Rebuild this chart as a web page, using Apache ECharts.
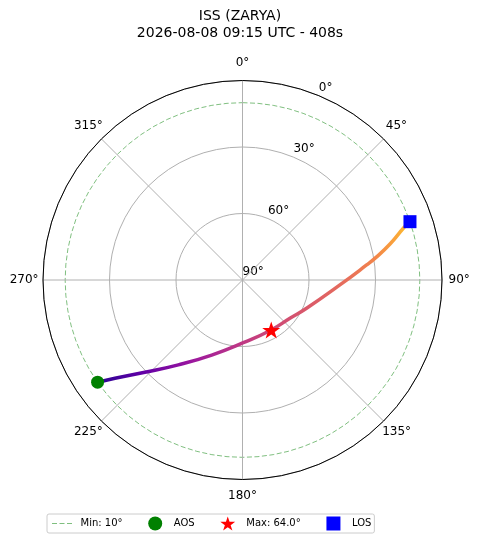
<!DOCTYPE html>
<html>
<head>
<meta charset="utf-8">
<title>ISS (ZARYA) pass</title>
<script src="https://cdn.jsdelivr.net/npm/echarts@6.0.0/dist/echarts.min.js"></script>
<style>
  html, body { margin: 0; padding: 0; background: #fff; }
  #chart { width: 480px; height: 543px; }
</style>
</head>
<body>
<div id="chart"></div>
<script>
// pass: azimuth / elevation in degrees
var trackAz = [234.8, 232.4, 226.6, 217.1, 202.3, 179.3, 150.1, 128.9, 113.8, 92.9, 83.1, 80.4, 76.3, 72.0, 70.8];
var trackEl = [10.0, 17.4, 29.4, 42.0, 53.4, 61.7, 64.0, 62.5, 58.4, 46.0, 33.6, 28.9, 21.5, 13.4, 10.0];
var aosPoint = [234.8, 10.0];
var maxPoint = [150.1, 64.0];
var losPoint = [70.8, 10.0];
var minElevation = 10;
// azimuth labels, starting at the first spoke clockwise of the radius labels
var azimuthLabels = ['45°', '90°', '135°', '180°', '225°', '270°', '315°', '0°'];
// push each label out so they all sit centred about the same distance off the rim
var labelPad = {
    '0°': [0, 0, 13.5, 0],
    '45°': [0, 0, 8.7, 3.7],
    '90°': [0, 0, 0, 8.5],
    '135°': [6, 0, 0, 0],
    '180°': [12, 0, 0, 0],
    '225°': [6, 0, 0, 0],
    '270°': [0, 6.4, 0, 0],
    '315°': [0, 0, 8.4, 0]
};

var chart = echarts.init(document.getElementById('chart'));

var track = trackAz.map(function (az, i) { return [trackEl[i], az]; });
var minRing = [];
for (var a = 0; a <= 360; a += 5) {
    minRing.push([minElevation, a]);
}

var minName = 'Min: ' + minElevation + '°';
var maxName = 'Max: ' + maxPoint[1].toFixed(1) + '°';

var plasma = new echarts.graphic.LinearGradient(0, 0, 1, 0, [
    { offset: 0, color: '#2a0593' },
    { offset: 0.15, color: '#6200a6' },
    { offset: 0.3, color: '#9a169f' },
    { offset: 0.45, color: '#bd3786' },
    { offset: 0.55, color: '#cc4778' },
    { offset: 0.7, color: '#dd5e66' },
    { offset: 0.8, color: '#e8705a' },
    { offset: 0.88, color: '#f2844b' },
    { offset: 0.95, color: '#faa63a' },
    { offset: 1, color: '#fcc72a' }
]);

var starPath = 'path://M50,0L61.8,35.1L98.9,35.1L68.9,56.7L80.3,91.9L50,70.2L19.7,91.9L31.1,56.7L1.1,35.1L38.2,35.1Z';
var squarePath = 'path://M0,0H10V10H0Z';
var gridGray = '#b0b0b0';

chart.setOption({
    backgroundColor: '#fff',
    animation: false,
    textStyle: { fontFamily: 'DejaVu Sans' },
    title: {
        text: 'ISS (ZARYA)\n2026-08-08 09:15 UTC - 408s',
        left: 'center',
        top: 3,
        textStyle: { fontSize: 14, fontWeight: 'normal', color: '#000', lineHeight: 17 }
    },
    legend: {
        data: [
            { name: minName, itemStyle: { opacity: 0 }, lineStyle: { color: 'rgba(0,128,0,0.5)', width: 1, type: [5, 2.5] } },
            'AOS', maxName, 'LOS'
        ],
        left: 47,
        top: 514,
        itemWidth: 20,
        itemHeight: 14,
        itemGap: 25.7,
        padding: [2.5, 3, 2.5, 4.5],
        borderColor: '#cccccc',
        borderWidth: 1,
        borderRadius: 2,
        selectedMode: false,
        textStyle: { fontSize: 10, color: '#000', padding: [0, 0, 0, 3.5] }
    },
    polar: [
        { center: [242.5, 280], radius: 199.5 },
        { center: [242.5, 280], radius: 199.5 }
    ],
    angleAxis: [
        {
            polarIndex: 0,
            type: 'value',
            min: 0,
            max: 360,
            interval: 45,
            startAngle: 90,
            clockwise: true,
            z: 2,
            axisLine: { lineStyle: { color: '#000', width: 1 } },
            axisTick: { show: false },
            axisLabel: { show: false },
            splitLine: { lineStyle: { color: gridGray, width: 1 } }
        },
        {
            polarIndex: 1,
            type: 'category',
            data: azimuthLabels.map(function (t) {
                return { value: t, textStyle: { padding: labelPad[t] } };
            }),
            startAngle: 67.5,
            clockwise: true,
            boundaryGap: true,
            axisLine: { show: false },
            axisTick: { show: false },
            splitLine: { show: false },
            axisLabel: { margin: -2, fontSize: 12, color: '#000' }
        }
    ],
    radiusAxis: [
        {
            polarIndex: 0,
            type: 'value',
            min: 0,
            max: 90,
            interval: 30,
            inverse: true,
            z: 1,
            axisLine: { show: false },
            axisTick: { show: false },
            axisLabel: { show: false },
            splitLine: { lineStyle: { color: gridGray, width: 1 } }
        },
        {
            polarIndex: 1,
            type: 'value',
            min: 0,
            max: 90,
            interval: 30,
            inverse: true,
            axisLine: { show: false },
            axisTick: { show: false },
            splitLine: { show: false },
            axisLabel: {
                margin: 0,
                fontSize: 12,
                color: '#000',
                align: 'left',
                verticalAlign: 'bottom',
                padding: [0, 0, 2, 0],
                formatter: '{value}°'
            }
        }
    ],
    series: [
        {
            name: minName,
            type: 'line',
            coordinateSystem: 'polar',
            polarIndex: 0,
            data: minRing,
            symbol: 'none',
            silent: true,
            z: 1,
            itemStyle: { color: 'rgba(0,128,0,0.5)' },
            lineStyle: { color: 'rgba(0,128,0,0.5)', width: 1, type: [5, 2.5] }
        },
        {
            name: 'track',
            type: 'line',
            coordinateSystem: 'polar',
            polarIndex: 0,
            data: track,
            smooth: true,
            symbol: 'none',
            silent: true,
            z: 2,
            lineStyle: { width: 3.5, color: plasma }
        },
        {
            name: 'AOS',
            type: 'scatter',
            coordinateSystem: 'polar',
            polarIndex: 0,
            data: [[aosPoint[1], aosPoint[0]]],
            symbol: 'circle',
            symbolSize: 13,
            z: 3,
            itemStyle: { color: '#008000', opacity: 1 }
        },
        {
            name: maxName,
            type: 'scatter',
            coordinateSystem: 'polar',
            polarIndex: 0,
            data: [[maxPoint[1], maxPoint[0]]],
            symbol: starPath,
            symbolKeepAspect: true,
            symbolSize: 18,
            z: 3,
            itemStyle: { color: '#ff0000', opacity: 1 }
        },
        {
            name: 'LOS',
            type: 'scatter',
            coordinateSystem: 'polar',
            polarIndex: 0,
            data: [[losPoint[1], losPoint[0]]],
            symbol: squarePath,
            symbolKeepAspect: true,
            symbolSize: 13,
            z: 3,
            itemStyle: { color: '#0000ff', opacity: 1 }
        }
    ]
});
</script>
</body>
</html>
